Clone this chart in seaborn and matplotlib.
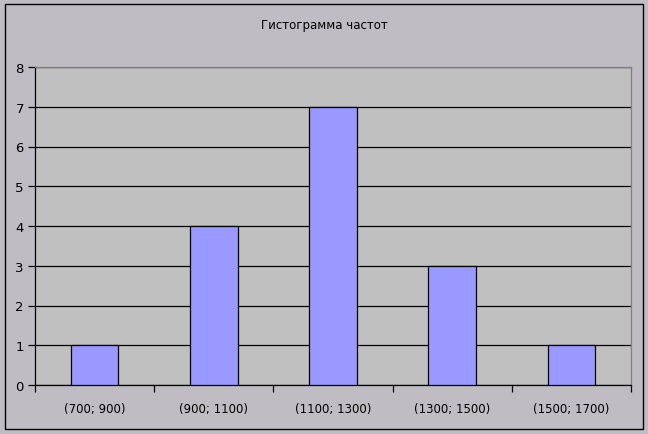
import matplotlib
matplotlib.use("Agg")
import matplotlib.pyplot as plt
from matplotlib.patches import Rectangle
import pandas as pd
import seaborn as sns

# histogram data
intervals = ["(700; 900)", "(900; 1100)", "(1100; 1300)", "(1300; 1500)", "(1500; 1700)"]
counts = [1, 4, 7, 3, 1]
y_ticks = [0, 1, 2, 3, 4, 5, 6, 7, 8]

sns.set_style("white")
plt.rcParams["font.family"] = ["DejaVu Sans"]
plt.rcParams["text.color"] = "black"
plt.rcParams["xtick.color"] = "black"
plt.rcParams["ytick.color"] = "black"

df = pd.DataFrame({"interval": intervals, "count": counts})

fig = plt.figure(figsize=(6.48, 4.35), dpi=100)
fig.patch.set_facecolor("#C0BCC4")
fig.patches.append(Rectangle((5 / 648, 5 / 435), 638 / 648, 425 / 435,
                             transform=fig.transFigure, fill=False,
                             edgecolor="black", linewidth=1.0, zorder=0))

ax = fig.add_axes([35 / 648, 49 / 435, 596 / 648, 318 / 435])
ax.set_facecolor("#C0C0C0")
sns.barplot(data=df, x="interval", y="count", width=0.4, color="#9999FF",
            saturation=1, edgecolor="black", linewidth=0.9, ax=ax, zorder=3)

ax.set_xlim(-0.5, len(intervals) - 0.5)
ax.set_ylim(0, 8)
ax.set_yticks(y_ticks)
ax.yaxis.grid(True, color="black", linewidth=0.9, zorder=1)
ax.set_axisbelow(True)

ax.set_xticks(range(len(intervals)))
ax.set_xticklabels(intervals, fontsize=8.5)
ax.set_xticks([i - 0.5 for i in range(len(intervals) + 1)], minor=True)
ax.tick_params(axis="x", which="major", bottom=True, length=0, pad=12)
ax.tick_params(axis="x", which="minor", bottom=True, length=5, width=0.9,
               color="black", direction="out")
ax.tick_params(axis="y", left=True, length=5, width=0.9, color="black",
               direction="out", labelsize=9.5, pad=3)
ax.set_xlabel(""); ax.set_ylabel("")

for side in ("top", "right"):
    ax.spines[side].set_visible(True)
    ax.spines[side].set_color("#808080")
    ax.spines[side].set_linewidth(0.9)
for side in ("left", "bottom"):
    ax.spines[side].set_color("black")
    ax.spines[side].set_linewidth(0.9)

fig.text(0.5, 1 - 25 / 435, "Гистограмма частот", ha="center", va="center",
         fontsize=8.5, color="black")

fig.savefig("out.png", dpi=100, facecolor=fig.get_facecolor())
